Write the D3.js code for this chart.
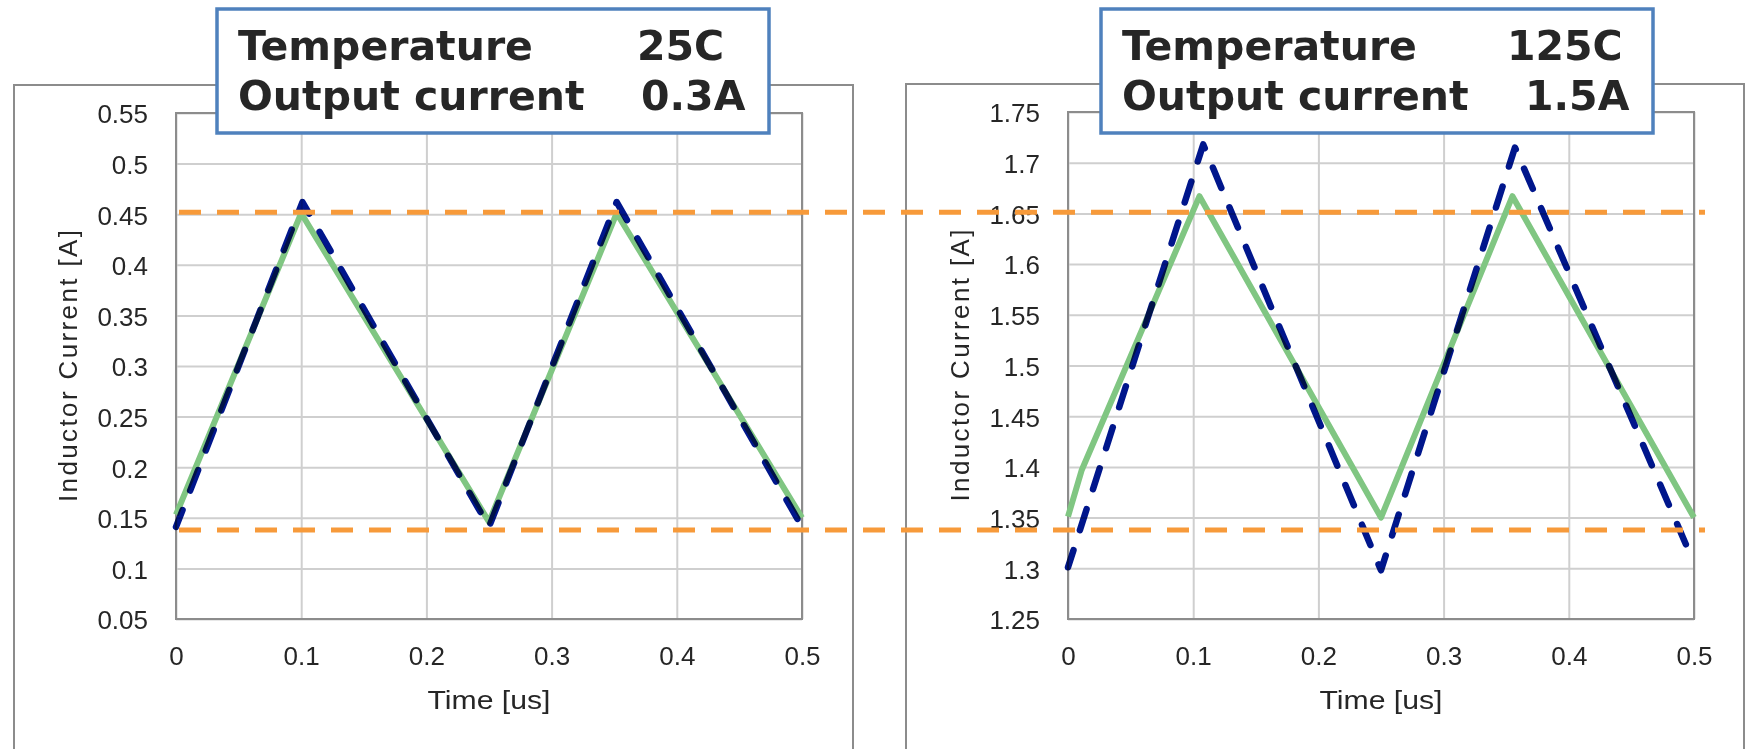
<!DOCTYPE html>
<html>
<head>
<meta charset="UTF-8" />
<title>Inductor current</title>
<script src="https://cdn.jsdelivr.net/npm/d3@7/dist/d3.min.js"></script>
<style>
body { margin: 0; background: #fff; }
.tick text { font-family: "Liberation Sans", Arial, sans-serif; font-size: 26px; fill: #262626; }
.grid .tick line { stroke: #cfcfcf; stroke-width: 2; }
.axis-title { font-family: "Liberation Sans", Arial, sans-serif; font-size: 26px; fill: #262626; }
.note { font-family: "DejaVu Sans", sans-serif; font-weight: bold; font-size: 41px; fill: #262626; }
</style>
</head>
<body>
<div id="chart"></div>
<script>
// ---- data ----
var timeTicks = [0, 0.1, 0.2, 0.3, 0.4, 0.5];
var timeLabels = ["0", "0.1", "0.2", "0.3", "0.4", "0.5"];

var leftTicks = [0.05, 0.1, 0.15, 0.2, 0.25, 0.3, 0.35, 0.4, 0.45, 0.5, 0.55];
var leftLabels = ["0.05", "0.1", "0.15", "0.2", "0.25", "0.3", "0.35", "0.4", "0.45", "0.5", "0.55"];
var rightTicks = [1.25, 1.3, 1.35, 1.4, 1.45, 1.5, 1.55, 1.6, 1.65, 1.7, 1.75];
var rightLabels = ["1.25", "1.3", "1.35", "1.4", "1.45", "1.5", "1.55", "1.6", "1.65", "1.7", "1.75"];

// 25C / 0.3A
var leftGreenT = [0, 0.1, 0.25, 0.352, 0.5];
var leftGreenI = [0.153, 0.451, 0.146, 0.451, 0.150];
var leftNavyT = [0, 0.101, 0.25, 0.352, 0.5];
var leftNavyI = [0.141, 0.462, 0.141, 0.462, 0.141];

// 125C / 1.5A
var rightGreenT = [0, 0.011, 0.105, 0.25, 0.355, 0.5];
var rightGreenI = [1.351, 1.397, 1.667, 1.350, 1.667, 1.350];
var rightNavyT = [0, 0.108, 0.25, 0.357, 0.5];
var rightNavyI = [1.301, 1.718, 1.298, 1.715, 1.305];

// orange guide levels, in the left chart's units
var guideLevels = [0.452, 0.138];

var noteLeft = [["Temperature", "25C"], ["Output current", "0.3A"]];
var noteRight = [["Temperature", "125C"], ["Output current", "1.5A"]];

// ---- layout ----
var W = 1749, H = 749;
var svg = d3.select('#chart').append('svg')
    .attr('width', W).attr('height', H);

var panels = [
    { frame: [14, 85, 853], plot: [176, 113, 802, 619], ticks: leftTicks, labels: leftLabels,
      green: [leftGreenT, leftGreenI], navy: [leftNavyT, leftNavyI],
      box: [217, 9, 769, 133], note: noteLeft, valX: [637, 641] },
    { frame: [906, 84, 1744], plot: [1068, 112, 1694, 619], ticks: rightTicks, labels: rightLabels,
      green: [rightGreenT, rightGreenI], navy: [rightNavyT, rightNavyI],
      box: [1101, 9, 1653, 133], note: noteRight, valX: [1507, 1525] }
];

panels.forEach(function(p) {
    var x = d3.scaleLinear().domain([0, 0.5]).range([p.plot[0], p.plot[2]]);
    var y = d3.scaleLinear().domain([p.ticks[0], p.ticks[p.ticks.length - 1]]).range([p.plot[3], p.plot[1]]);
    p.x = x; p.y = y;
    var w = p.plot[2] - p.plot[0], h = p.plot[3] - p.plot[1];

    // outer frame (runs off the bottom)
    svg.append('path')
        .attr('d', 'M' + p.frame[0] + ',' + (H + 5) + 'V' + p.frame[1] + 'H' + p.frame[2] + 'V' + (H + 5))
        .attr('fill', 'none').attr('stroke', '#8c8c8c').attr('stroke-width', 2);

    var gy = svg.append('g').attr('class', 'grid')
        .attr('transform', 'translate(' + p.plot[0] + ',0)')
        .call(d3.axisLeft(y).tickValues(p.ticks).tickSize(-w).tickPadding(28)
            .tickFormat(function(d, i) { return p.labels[i]; }));
    gy.select('.domain').remove();
    gy.selectAll('.tick text').attr('dy', '0.38em');

    var gx = svg.append('g').attr('class', 'grid')
        .attr('transform', 'translate(0,' + p.plot[3] + ')')
        .call(d3.axisBottom(x).tickValues(timeTicks).tickSize(-h).tickPadding(28)
            .tickFormat(function(d, i) { return timeLabels[i]; }));
    gx.select('.domain').remove();

    svg.append('rect')
        .attr('x', p.plot[0]).attr('y', p.plot[1]).attr('width', w).attr('height', h)
        .attr('fill', 'none').attr('stroke', '#8c8c8c').attr('stroke-width', 2);

    svg.append('text').attr('class', 'axis-title')
        .attr('x', (p.plot[0] + p.plot[2]) / 2).attr('y', 709)
        .attr('text-anchor', 'middle')
        .attr('textLength', 123).attr('lengthAdjust', 'spacingAndGlyphs')
        .text('Time [us]');

    var cy = (p.plot[1] + p.plot[3]) / 2;
    svg.append('text').attr('class', 'axis-title')
        .attr('transform', 'translate(' + (p.plot[0] - 99) + ',' + cy + ') rotate(-90)')
        .attr('text-anchor', 'middle')
        .attr('textLength', 272).attr('lengthAdjust', 'spacing')
        .text('Inductor Current [A]');

    var line = d3.line().x(function(d) { return x(d[0]); }).y(function(d) { return y(d[1]); });

    svg.append('path')
        .datum(d3.zip(p.green[0], p.green[1]))
        .attr('d', line)
        .attr('fill', 'none').attr('stroke', '#80c682').attr('stroke-width', 6)
        .attr('stroke-linejoin', 'round');

    svg.append('path')
        .datum(d3.zip(p.navy[0], p.navy[1]))
        .attr('d', line)
        .attr('fill', 'none').attr('stroke', '#00168c').attr('stroke-width', 6.5)
        .style('mix-blend-mode', 'multiply')
        .attr('stroke-dasharray', '22,21').attr('stroke-dashoffset', 4)
        .attr('stroke-linecap', 'round').attr('stroke-linejoin', 'round');
});

// orange guides across both panels
var L = panels[0], R = panels[1];
svg.selectAll('.guide')
    .data(guideLevels)
    .enter().append('line')
    .attr('class', 'guide')
    .attr('x1', L.x(0) + 3)
    .attr('x2', R.x(0.5) + 11)
    .attr('y1', function(d) { return L.y(d); })
    .attr('y2', function(d) { return L.y(d); })
    .attr('stroke', '#f79a3a').attr('stroke-width', 5)
    .attr('stroke-dasharray', '22,16');

// note boxes
panels.forEach(function(p) {
    var b = p.box;
    svg.append('rect')
        .attr('x', b[0]).attr('y', b[1]).attr('width', b[2] - b[0]).attr('height', b[3] - b[1])
        .attr('fill', '#fff').attr('stroke', '#4f81bd').attr('stroke-width', 3.5);
    p.note.forEach(function(row, i) {
        var by = i === 0 ? 60 : 110;
        svg.append('text').attr('class', 'note')
            .attr('x', b[0] + 21).attr('y', by).text(row[0]);
        svg.append('text').attr('class', 'note')
            .attr('x', p.valX[i]).attr('y', by).text(row[1]);
    });
});
</script>
</body>
</html>
